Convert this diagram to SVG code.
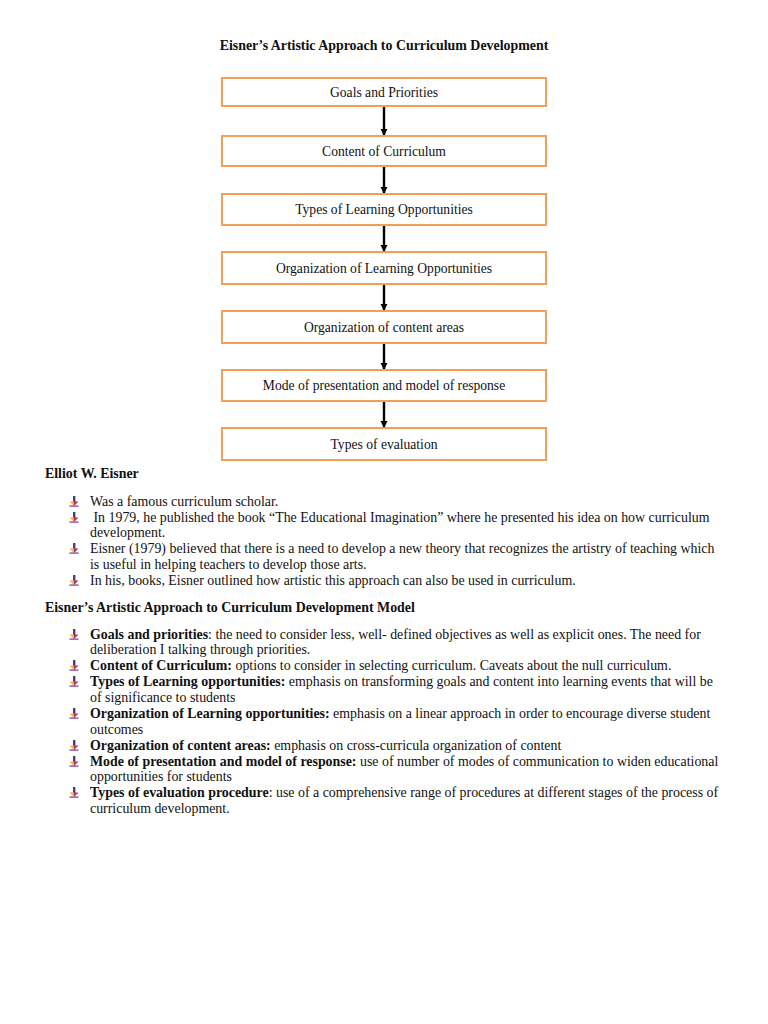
<svg xmlns="http://www.w3.org/2000/svg" width="768" height="1024" viewBox="0 0 768 1024">
<style>
.t{font-family:"Liberation Serif","Times New Roman",serif;font-size:13.9px;fill:#111}
.b{font-weight:bold}
.box{fill:#fff;stroke:#F0A05A;stroke-width:2}
.bt{font-family:"Liberation Serif","Times New Roman",serif;font-size:13.6px;fill:#111;text-anchor:middle}
.conn{stroke:#000;stroke-width:2.4;fill:none;marker-end:url(#ah)}
</style>
<defs>
<marker id="ah" markerWidth="8" markerHeight="8" refX="6" refY="4" orient="auto" markerUnits="userSpaceOnUse">
<path d="M0,0.5 L7,4 L0,7.5 z" fill="#000"/>
</marker>
<g id="bul">
<rect x="-1" y="-10" width="2.4" height="6" fill="#4A3A9A"/>
<path d="M-4.5,-4.5 L0,-4.5 L0,0 z" fill="#E8B830"/>
<path d="M0,-4.5 L4.5,-4.5 L0,0 z" fill="#C0304A"/>
<rect x="-4.5" y="-0.5" width="9" height="1.2" fill="#6A3A9A"/>
</g>
</defs>
<rect width="768" height="1024" fill="#fff"/>
<text class="t b" x="384" y="50" text-anchor="middle" font-size="13.3">Eisner’s Artistic Approach to Curriculum Development</text>

<g id="connectors">
<line class="conn" x1="384" y1="107" x2="384" y2="135"/>
<line class="conn" x1="384" y1="166" x2="384" y2="193"/>
<line class="conn" x1="384" y1="225" x2="384" y2="251"/>
<line class="conn" x1="384" y1="284" x2="384" y2="310"/>
<line class="conn" x1="384" y1="343" x2="384" y2="369"/>
<line class="conn" x1="384" y1="401" x2="384" y2="427"/>
</g>

<g id="n1"><rect class="box" x="222" y="78" width="324" height="28"/><text class="bt" x="384" y="96.5">Goals and Priorities</text></g>
<g id="n2"><rect class="box" x="222" y="136" width="324" height="30"/><text class="bt" x="384" y="155.5">Content of Curriculum</text></g>
<g id="n3"><rect class="box" x="222" y="194" width="324" height="31"/><text class="bt" x="384" y="213.5">Types of Learning Opportunities</text></g>
<g id="n4"><rect class="box" x="222" y="252" width="324" height="32"/><text class="bt" x="384" y="272.5">Organization of Learning Opportunities</text></g>
<g id="n5"><rect class="box" x="222" y="311" width="324" height="32"/><text class="bt" x="384" y="331.5">Organization of content areas</text></g>
<g id="n6"><rect class="box" x="222" y="370" width="324" height="31"/><text class="bt" x="384" y="389.5" font-size="12.1">Mode of presentation and model of response</text></g>
<g id="n7"><rect class="box" x="222" y="428" width="324" height="32"/><text class="bt" x="384" y="448.5">Types of evaluation</text></g>

<text class="t b" x="45" y="478">Elliot W. Eisner</text>
<use href="#bul" x="74" y="506"/>
<text class="t" x="90" y="506">Was a famous curriculum scholar.</text>
<use href="#bul" x="74" y="522"/>
<text class="t" x="90" y="522" xml:space="preserve"> In 1979, he published the book “The Educational Imagination” where he presented his idea on how curriculum</text>
<text class="t" x="90" y="537">development.</text>
<use href="#bul" x="74" y="553"/>
<text class="t" x="90" y="553">Eisner (1979) believed that there is a need to develop a new theory that recognizes the artistry of teaching which</text>
<text class="t" x="90" y="569">is useful in helping teachers to develop those arts.</text>
<use href="#bul" x="74" y="585"/>
<text class="t" x="90" y="585">In his, books, Eisner outlined how artistic this approach can also be used in curriculum.</text>

<text class="t b" x="45" y="612">Eisner’s Artistic Approach to Curriculum Development Model</text>
<use href="#bul" x="74" y="639"/>
<text class="t" x="90" y="639"><tspan class="b">Goals and priorities</tspan>: the need to consider less, well- defined objectives as well as explicit ones. The need for</text>
<text class="t" x="90" y="654">deliberation I talking through priorities.</text>
<use href="#bul" x="74" y="670"/>
<text class="t" x="90" y="670"><tspan class="b">Content of Curriculum:</tspan> options to consider in selecting curriculum. Caveats about the null curriculum.</text>
<use href="#bul" x="74" y="686"/>
<text class="t" x="90" y="686"><tspan class="b">Types of Learning opportunities:</tspan> emphasis on transforming goals and content into learning events that will be</text>
<text class="t" x="90" y="702">of significance to students</text>
<use href="#bul" x="74" y="718"/>
<text class="t" x="90" y="718"><tspan class="b">Organization of Learning opportunities:</tspan> emphasis on a linear approach in order to encourage diverse student</text>
<text class="t" x="90" y="734">outcomes</text>
<use href="#bul" x="74" y="750"/>
<text class="t" x="90" y="750"><tspan class="b">Organization of content areas:</tspan> emphasis on cross-curricula organization of content</text>
<use href="#bul" x="74" y="766"/>
<text class="t" x="90" y="766"><tspan class="b">Mode of presentation and model of response:</tspan> use of number of modes of communication to widen educational</text>
<text class="t" x="90" y="781">opportunities for students</text>
<use href="#bul" x="74" y="797"/>
<text class="t" x="90" y="797"><tspan class="b">Types of evaluation procedure</tspan>: use of a comprehensive range of procedures at different stages of the process of</text>
<text class="t" x="90" y="813">curriculum development.</text>
</svg>
